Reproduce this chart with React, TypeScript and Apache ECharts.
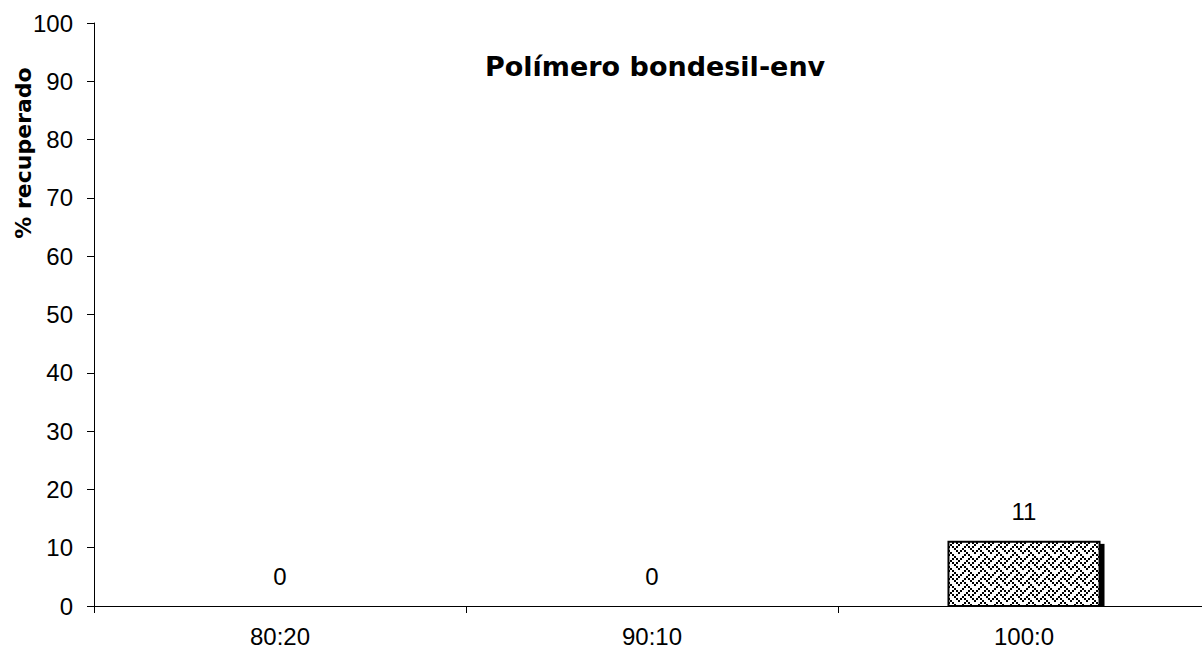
import React, { useEffect, useRef } from "react";
import * as echarts from "echarts";

const categories = ["80:20", "90:10", "100:0"];
const recovered = [0, 0, 11];
const yTicks = { min: 0, max: 100, interval: 10 };
const titleText = "Polímero bondesil-env";
const yAxisTitle = "% recuperado";

// 8x8 "weave" hatch bitmap, one byte per row
const weaveBits = [0x11, 0x2a, 0x44, 0xa2, 0x11, 0x28, 0x44, 0x8a];

function makeWeave(scale: number): HTMLCanvasElement {
  const c = document.createElement("canvas");
  c.width = 8 * scale;
  c.height = 8 * scale;
  const ctx = c.getContext("2d")!;
  ctx.fillStyle = "#fff";
  ctx.fillRect(0, 0, c.width, c.height);
  ctx.fillStyle = "#000";
  weaveBits.forEach((row, r) => {
    for (let b = 0; b < 8; b++) {
      if (row & (0x80 >> b)) ctx.fillRect(b * scale, r * scale, scale, scale);
    }
  });
  return c;
}

export default function App() {
  const ref = useRef<HTMLDivElement>(null);

  useEffect(() => {
    if (!ref.current) return;
    const chart = echarts.init(ref.current, undefined, { renderer: "svg" });
    const tile = makeWeave(2);
    const pattern: any = { image: tile, repeat: "repeat", imageWidth: tile.width, imageHeight: tile.height };
    const labelFont = "Liberation Sans, Arial, sans-serif";

    chart.setOption({
      animation: false,
      backgroundColor: "#fff",
      title: {
        text: titleText,
        left: 480,
        top: 48,
        textStyle: { fontFamily: "DejaVu Sans", fontWeight: "bold", fontSize: 27, color: "#000" },
      },
      graphic: [
        {
          type: "text",
          x: 23,
          y: 153,
          rotation: Math.PI / 2,
          style: {
            text: yAxisTitle,
            fontFamily: "DejaVu Sans",
            fontWeight: "bold",
            fontSize: 22,
            fill: "#000",
            align: "center",
            verticalAlign: "middle",
          },
        },
      ],
      // the chart surface is a little wider than the window, so the category axis runs past the right edge
      grid: { left: 94, right: 0, top: 23, bottom: 45, containLabel: false },
      xAxis: {
        type: "category",
        data: categories,
        boundaryGap: true,
        axisLine: { lineStyle: { color: "#000", width: 1 } },
        axisTick: { show: true, length: 7, lineStyle: { color: "#000" } },
        axisLabel: { margin: 18, fontFamily: labelFont, fontSize: 24, color: "#000" },
        splitLine: { show: false },
      },
      yAxis: {
        type: "value",
        min: yTicks.min,
        max: yTicks.max,
        interval: yTicks.interval,
        axisLine: { show: true, lineStyle: { color: "#000", width: 1 } },
        axisTick: { show: true, length: 7, lineStyle: { color: "#000" } },
        axisLabel: { margin: 21, fontFamily: labelFont, fontSize: 24, color: "#000" },
        splitLine: { show: false },
      },
      series: [
        {
          type: "custom",
          encode: { x: 0, y: 1 },
          data: recovered.map((v, i) => [i, v]),
          renderItem: (_params: any, api: any) => {
            const idx = api.value(0);
            const v = api.value(1);
            const base = api.coord([idx, 0]);
            const top = api.coord([idx, v]);
            const bw = api.size([1, 0])[0] * 0.406;
            const x0 = base[0] - bw / 2;
            const h = base[1] - top[1];
            const children: any[] = [];
            if (h > 0) {
              children.push({
                type: "rect",
                shape: { x: x0 + bw - 1, y: top[1] + 2, width: 6, height: h - 2 },
                style: { fill: "#000" },
              });
              children.push({
                type: "rect",
                shape: { x: x0, y: top[1], width: bw, height: h },
                style: { fill: pattern, stroke: "#000", lineWidth: 2 },
              });
            }
            children.push({
              type: "text",
              style: {
                text: String(v),
                x: base[0],
                y: top[1] - 30,
                align: "center",
                verticalAlign: "middle",
                fontFamily: labelFont,
                fontSize: 24,
                fill: "#000",
              },
            });
            return { type: "group", children };
          },
        },
      ],
    });

    return () => chart.dispose();
  }, []);

  return (
    <div
      ref={ref}
      style={{ position: "fixed", left: 0, top: 0, width: 1210, height: 651, background: "#fff" }}
    />
  );
}
